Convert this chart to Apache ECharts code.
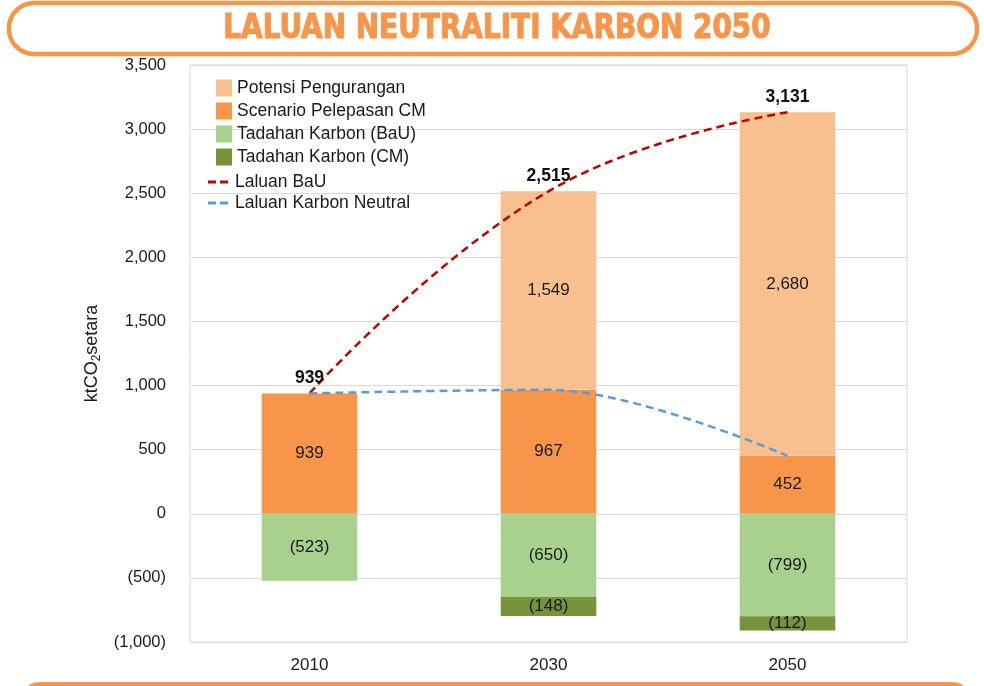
<!DOCTYPE html>
<html>
<head>
<meta charset="utf-8">
<script src="https://cdn.jsdelivr.net/npm/echarts@6/dist/echarts.min.js"></script>
<style>
html,body{margin:0;padding:0;background:#fff}
#chart{width:984px;height:686px}
</style>
</head>
<body>
<div id="chart"></div>
<script>
// data
var years = ['2010', '2030', '2050'];
var potensi = [0, 1549, 2680];          // Potensi Pengurangan
var scenarioCM = [939, 967, 452];       // Scenario Pelepasan CM
var tadahanBaU = [-523, -650, -799];    // Tadahan Karbon (BaU)
var tadahanCM = [0, -148, -112];        // Tadahan Karbon (CM)
var laluanBaU = [939, 2515, 3131];
var laluanNeutral = [939, 967, 452];
var yMin = -1000, yMax = 3500, yStep = 500;

var font = '"Liberation Sans", Arial, sans-serif';
var orange = '#F7964A';
var ink = '#1a1a1a';

function fmt(v) {
  var s = Math.abs(v).toLocaleString('en-US');
  return v < 0 ? '(' + s + ')' : s;
}

function barLabel() {
  return {
    show: true,
    position: 'inside',
    color: ink,
    fontSize: 17,
    fontFamily: font,
    formatter: function (p) { return p.value === 0 ? '' : fmt(p.value); }
  };
}

var chart = echarts.init(document.getElementById('chart'));
chart.setOption({
  animation: false,
  textStyle: { fontFamily: font },
  graphic: [
    {
      type: 'rect',
      shape: { x: 9, y: 3, width: 968, height: 51, r: 25 },
      style: { fill: '#fff', stroke: orange, lineWidth: 4.5 }
    },
    {
      type: 'text',
      x: 497, y: 29,
      scaleX: 0.94,
      style: {
        text: 'LALUAN NEUTRALITI KARBON 2050',
        font: 'bold 33px "DejaVu Sans Condensed", sans-serif',
        fill: orange,
        stroke: orange,
        lineWidth: 1,
        align: 'center',
        verticalAlign: 'middle'
      }
    },
    {
      type: 'rect',
      shape: { x: 22, y: 684, width: 948, height: 40, r: 18 },
      style: { fill: 'none', stroke: orange, lineWidth: 4 }
    }
  ],
  grid: {
    left: 190, right: 77, top: 65, bottom: 44,
    show: true, borderColor: '#d9d9d9', borderWidth: 1
  },
  legend: [
    {
      data: ['Potensi Pengurangan', 'Scenario Pelepasan CM', 'Tadahan Karbon (BaU)', 'Tadahan Karbon (CM)'],
      orient: 'vertical',
      left: 211, top: 74,
      icon: 'rect',
      itemWidth: 16, itemHeight: 17, itemGap: 5,
      textStyle: { fontSize: 17.5, color: ink, fontFamily: font }
    },
    {
      data: ['Laluan BaU', 'Laluan Karbon Neutral'],
      orient: 'vertical',
      left: 203, top: 168,
      icon: 'path://M0,0h8v3h-8z M12,0h8v3h-8z',
      itemWidth: 20, itemHeight: 3, itemGap: 3,
      textStyle: { fontSize: 17.5, color: ink, fontFamily: font, padding: [0, 0, 0, 2] }
    }
  ],
  xAxis: {
    type: 'category',
    data: years,
    axisLine: { show: false, onZero: false },
    axisTick: { show: false },
    axisLabel: { fontSize: 17, color: ink, margin: 15 }
  },
  yAxis: {
    type: 'value',
    min: yMin, max: yMax, interval: yStep,
    name: '{a|ktCO}{b|2}{a|setara}',
    nameLocation: 'middle',
    nameGap: 78,
    nameTextStyle: {
      rich: {
        a: { fontSize: 18, color: ink, fontFamily: font },
        b: { fontSize: 12, color: ink, fontFamily: font, padding: [9, 0, 0, 0] }
      }
    },
    axisLine: { show: false },
    axisTick: { show: false },
    axisLabel: { fontSize: 16.5, color: ink, margin: 24, formatter: fmt },
    splitLine: { lineStyle: { color: '#d9d9d9', width: 1 } }
  },
  series: [
    {
      name: 'Scenario Pelepasan CM', type: 'bar', stack: 'a',
      barWidth: '40%',
      itemStyle: { color: '#F7954A' },
      label: barLabel(),
      data: scenarioCM
    },
    {
      name: 'Potensi Pengurangan', type: 'bar', stack: 'a',
      itemStyle: { color: '#F9C08F' },
      label: barLabel(),
      data: potensi
    },
    {
      name: 'Tadahan Karbon (BaU)', type: 'bar', stack: 'a',
      itemStyle: { color: '#A9D18E' },
      label: barLabel(),
      data: tadahanBaU
    },
    {
      name: 'Tadahan Karbon (CM)', type: 'bar', stack: 'a',
      itemStyle: { color: '#77933C' },
      label: barLabel(),
      data: tadahanCM
    },
    {
      name: 'Laluan BaU', type: 'line',
      smooth: 0.45, symbol: 'circle', symbolSize: 0, showSymbol: true, z: 5,
      itemStyle: { color: '#C00000' },
      lineStyle: { color: '#C00000', width: 2.5, type: [8, 5] },
      label: {
        show: true, position: 'top', distance: 6,
        fontSize: 17.5, fontWeight: 'bold', color: '#111',
        formatter: function (p) { return fmt(p.value); }
      },
      data: laluanBaU
    },
    {
      name: 'Laluan Karbon Neutral', type: 'line',
      smooth: 0.35, symbol: 'none', z: 5,
      itemStyle: { color: '#5B9BD5' },
      lineStyle: { color: '#5B9BD5', width: 2.5, type: [8, 5] },
      data: laluanNeutral
    }
  ]
});
</script>
</body>
</html>
